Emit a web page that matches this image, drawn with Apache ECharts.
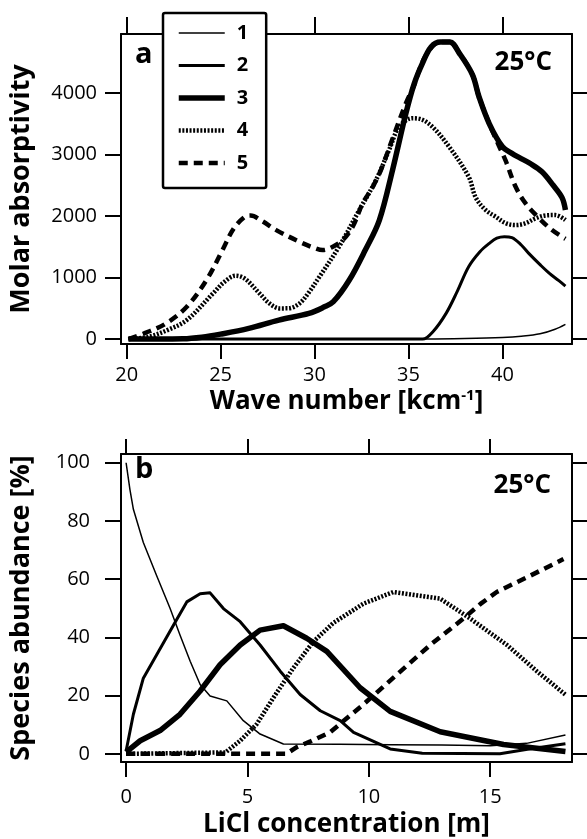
<!DOCTYPE html>
<html><head><meta charset="utf-8">
<script src="https://cdn.jsdelivr.net/npm/echarts@6/dist/echarts.min.js"></script>
<style>html,body{margin:0;padding:0;background:#fff}#c{width:587px;height:839px}</style>
</head><body><div id="c"></div>
<script>
// ---------- DATA ----------
const seriesNames = ['1', '2', '3', '4', '5'];
const waveTicks = [20, 25, 30, 35, 40];
const absTicks = [0, 1000, 2000, 3000, 4000];
const liclTicks = [0, 5, 10, 15];
const abundTicks = [0, 20, 40, 60, 80, 100];

// panel a : molar absorptivity vs wave number [kcm-1]
const spec1 = [[20.1,0],[30,0],[36,0],[38,8],[40,25],[41,45],[42,85],[42.8,160],[43.35,240]];
const spec2 = [[20.1,0],[35.75,0],[36.3,120],[37,418],[37.6,780],[38.2,1176],[38.8,1420],[39.3,1556],[39.7,1640],[40.1,1665],[40.5,1650],[41,1530],[41.4,1393],[42,1210],[42.5,1068],[43,950],[43.35,862]];
const spec3 = [[20.1,0],[23,5],[24,30],[25,80],[26.5,174],[28.1,309],[29.7,418],[30.5,520],[31,607],[31.85,960],[32.7,1447],[33.45,1935],[34.15,2748],[34.86,3670],[35.3,4150],[35.74,4483],[36.2,4750],[36.7,4830],[37.2,4830],[37.7,4650],[38.4,4300],[38.75,3940],[39.3,3500],[40.0,3127],[40.5,3020],[40.9,2950],[41.5,2850],[42.1,2720],[42.7,2500],[43.17,2300],[43.35,2100]];
const spec4 = [[20.1,0],[21.2,40],[22.2,150],[23.2,309],[24.6,743],[25.2,930],[25.8,1030],[26.3,980],[27.07,743],[27.6,580],[28.14,499],[28.6,500],[29.2,580],[29.7,760],[30.26,1013],[31.3,1500],[32.38,2098],[33.27,2585],[34,3100],[34.5,3452],[35.2,3590],[35.6,3580],[36.27,3452],[37.16,3127],[38.2,2640],[38.58,2300],[39.1,2100],[39.64,1989],[40.2,1880],[40.7,1854],[41.2,1880],[41.76,1962],[42.3,2010],[42.82,2016],[43.35,1935]];
const spec5 = [[20.1,0],[21,100],[22.1,255],[23.2,525],[24.25,960],[25.1,1447],[25.7,1800],[26.3,1990],[26.6,2010],[27.2,1920],[27.96,1772],[29.2,1582],[30.0,1480],[30.43,1447],[30.9,1490],[31.5,1610],[32.03,1826],[32.56,2206],[33.1,2476],[33.53,2748],[34.2,3300],[34.86,3832],[35.3,4130],[35.57,4374],[35.9,4600],[36.4,4800],[36.7,4830],[37.2,4830],[37.7,4650],[38.4,4300],[38.75,3940],[39.3,3500],[39.8,3150],[40.17,2900],[40.7,2476],[41.23,2206],[41.9,1980],[42.64,1772],[43.35,1630]];

// panel b : species abundance [%] vs LiCl concentration [m]
const abund1 = [[0,100],[0.16,90.7],[0.3,84],[0.71,72.6],[1.26,61.2],[1.81,50],[2.22,40.8],[2.64,31.8],[3.05,23.8],[3.46,19.9],[4.15,18.2],[4.83,11.4],[5.52,6.8],[6.48,3.4],[8.8,3.3],[10.9,3.1],[13,3],[15,2.8],[16.5,3.6],[18.1,6.5]];
const abund2 = [[0,1],[0.3,13.6],[0.71,26],[1.26,34],[1.95,44.2],[2.5,52.2],[3.05,55],[3.46,55.3],[4.01,49.9],[4.7,45.4],[5.52,37.4],[6.35,28.4],[7.17,20.4],[8,14.8],[8.82,11.4],[9.37,7.4],[10.88,1.7],[12.2,0.2],[15.4,0],[16.6,1.7],[18.1,3.5]];
const abund3 = [[0,0.6],[0.58,4.5],[1.4,8],[2.22,13.6],[3.05,21.6],[3.87,30.6],[4.7,37.4],[5.52,42.5],[6.48,44],[7.44,39.7],[8.27,35.2],[9.64,22.7],[10.88,14.6],[12.94,7.6],[15.55,3.2],[18.1,0.8]];
const abund4 = [[0,0],[4.1,0.5],[4.7,4.5],[5.38,10.2],[6.07,19.3],[6.89,29.5],[7.72,38.6],[8.54,45],[9.78,51.6],[11.01,55.6],[12.94,53.3],[14.17,46.5],[15.69,37.4],[16.92,28.4],[18.09,20.4]];
const abund5 = [[0,0],[6.6,0],[7.03,2.3],[7.6,4.3],[8.4,7.4],[9.78,17],[11.15,27.2],[12.53,37.4],[13.9,46.5],[14.6,51.5],[15.27,55.6],[16.65,61.2],[18.02,66.9]];

// ---------- STYLE ----------
const FONT = 'Open Sans';
const lineStyles = [
  {width: 1.5, type: 'solid'},
  {width: 3, type: 'solid'},
  {width: 5.5, type: 'solid'},
  {width: 4.5, type: [2, 1.6]},
  {width: 4.5, type: [9, 6]}
];
const K = '#000';
const plain = v => String(v);

function xAxis(grid, pos, min, max, ticks, showLabel, tickLen, margin, name, nameGap) {
  return {
    type: 'value', gridIndex: grid, position: pos, min: min, max: max,
    axisLine: {show: true, onZero: false, lineStyle: {color: K, width: 2}},
    axisTick: {show: true, inside: false, length: tickLen, lineStyle: {color: K, width: 2}, customValues: ticks},
    axisLabel: {show: showLabel, customValues: ticks, margin: margin, fontSize: 20, color: K, fontFamily: FONT, formatter: plain},
    splitLine: {show: false},
    name: name || '', nameLocation: 'middle', nameGap: nameGap || 0,
    nameTextStyle: {fontSize: 26, fontWeight: 'bold', color: K, fontFamily: FONT,
      rich: {sup: {fontSize: 15, fontWeight: 'bold', color: K, fontFamily: FONT, verticalAlign: 'top', padding: [0, 0, 12, 0]}}}
  };
}
function yAxis(grid, pos, min, max, ticks, showLabel, tickLen, margin, name, nameGap) {
  return {
    type: 'value', gridIndex: grid, position: pos, min: min, max: max,
    axisLine: {show: true, onZero: false, lineStyle: {color: K, width: 2}},
    axisTick: {show: true, inside: false, length: tickLen, lineStyle: {color: K, width: 2}, customValues: ticks},
    axisLabel: {show: showLabel, customValues: ticks, margin: margin, fontSize: 20, color: K, fontFamily: FONT, formatter: plain},
    splitLine: {show: false},
    name: name || '', nameLocation: 'middle', nameGap: nameGap || 0,
    nameTextStyle: {fontSize: 27, fontWeight: 'bold', color: K, fontFamily: FONT}
  };
}

const topSets = [spec1, spec2, spec3, spec4, spec5];
const botSets = [abund1, abund2, abund3, abund4, abund5];
const series = [];
topSets.forEach((d, i) => series.push({
  name: seriesNames[i], type: 'line', xAxisIndex: 0, yAxisIndex: 0, data: d,
  showSymbol: false, symbol: 'none', smooth: 0.35, clip: true,
  lineStyle: {color: K, width: lineStyles[i].width, type: lineStyles[i].type, cap: 'butt', join: 'round'},
  itemStyle: {color: K}, z: 10 - i
}));
botSets.forEach((d, i) => series.push({
  name: seriesNames[i], type: 'line', xAxisIndex: 2, yAxisIndex: 2, data: d,
  showSymbol: false, symbol: 'none', smooth: false, clip: true,
  lineStyle: {color: K, width: lineStyles[i].width, type: lineStyles[i].type, cap: 'butt', join: 'round'},
  itemStyle: {color: K}, z: 10 - i
}));

const option = {
  animation: false,
  backgroundColor: '#fff',
  textStyle: {fontFamily: FONT},
  grid: [
    {left: 121, right: 15, top: 34, bottom: 495, show: false},
    {left: 121, right: 15, top: 454, bottom: 74, show: false}
  ],
  xAxis: [
    xAxis(0, 'bottom', 19.7, 43.7, waveTicks, true, 15, 21, 'Wave number [kcm{sup|-1}]', 44),
    xAxis(0, 'top', 19.7, 43.7, waveTicks, false, 17, 8),
    xAxis(1, 'bottom', -0.21, 18.37, liclTicks, true, 15, 25, 'LiCl concentration [m]', 50),
    xAxis(1, 'top', -0.21, 18.37, liclTicks, false, 15, 8)
  ],
  yAxis: [
    yAxis(0, 'left', -80, 4960, absTicks, true, 16, 24, 'Molar absorptivity', 86),
    yAxis(0, 'right', -80, 4960, absTicks, false, 15, 8),
    yAxis(1, 'left', -2.8, 103, abundTicks, true, 16, 31, 'Species abundance [%]', 86),
    yAxis(1, 'right', -2.8, 103, abundTicks, false, 15, 8)
  ],
  legend: {
    data: seriesNames, orient: 'vertical', left: 163, top: 13,
    itemWidth: 46, itemHeight: 14, itemGap: 12.5,
    padding: [10, 18, 15, 13],
    backgroundColor: '#fff', borderColor: K, borderWidth: 2.5, borderRadius: 2,
    selectedMode: false,
    itemStyle: {color: 'rgba(0,0,0,0)', borderWidth: 0, opacity: 0},
    lineStyle: {width: 'inherit', type: 'inherit', color: K, cap: 'butt'},
    textStyle: {fontSize: 20, fontWeight: 'bold', color: K, fontFamily: FONT, padding: [0, 0, 0, 7]},
    z: 20
  },
  graphic: [
    {type: 'text', left: 135, top: 40, z: 30, style: {text: 'a', font: 'bold 29px "Open Sans"', fill: K}},
    {type: 'text', left: 135, top: 455, z: 30, style: {text: 'b', font: 'bold 29px "Open Sans"', fill: K}},
    {type: 'text', right: 35, top: 50, z: 30, style: {text: '25°C', font: 'bold 26px "Open Sans"', fill: K}},
    {type: 'text', right: 36, top: 473, z: 30, style: {text: '25°C', font: 'bold 26px "Open Sans"', fill: K}}
  ],
  series: series
};
const chart = echarts.init(document.getElementById('c'), null, {renderer: 'canvas'});
chart.setOption(option);
</script></body></html>
